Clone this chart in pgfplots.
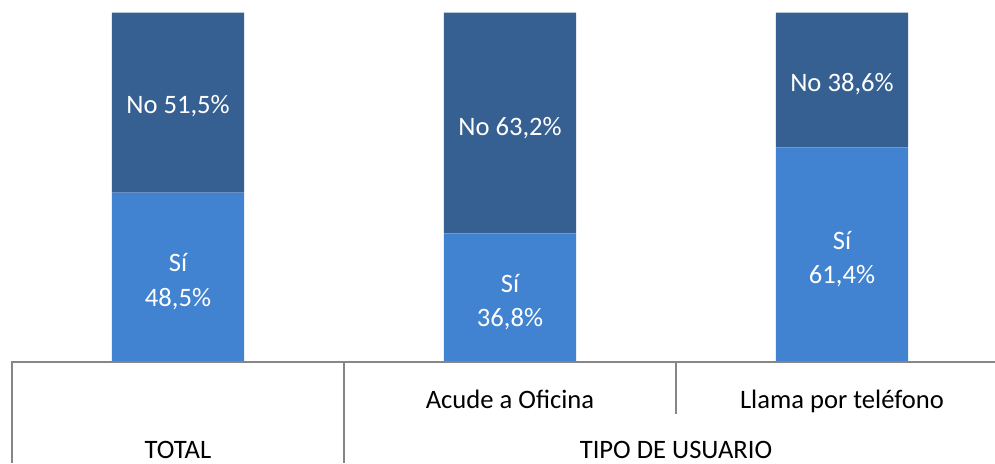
\documentclass[border=0pt]{standalone}
\usepackage{pgfplots}
\pgfplotsset{compat=1.18}
\usepackage{fontspec}
\setmainfont{Carlito}
\definecolor{noc}{RGB}{54,96,145}
\definecolor{sic}{RGB}{65,131,208}
\definecolor{linec}{RGB}{134,134,134}
\newcommand\lbl{\fontsize{13.3}{17.2}\selectfont}
\begin{document}
\begin{tikzpicture}
\useasboundingbox (0,0) rectangle (497.5pt,231.5pt);
\begin{axis}[
  at={(6pt,0pt)}, anchor=south west,
  width=491.5pt, height=231.5pt, scale only axis,
  xmin=-0.5, xmax=2.461, ymin=-28.9, ymax=103.6,
  hide axis, clip=false,
  ybar stacked, bar width=0.398,
]
\addplot[fill=sic, draw=none] coordinates {(0,48.5) (1,36.8) (2,61.4)};
\addplot[fill=noc, draw=none] coordinates {(0,51.5) (1,63.2) (2,38.6)};
\coordinate (p1) at (axis cs:-0.5,-28.9);
\coordinate (p2) at (axis cs:-0.5,0);
\coordinate (p3) at (axis cs:2.461,0);
\coordinate (p4) at (axis cs:0.5,0);
\coordinate (p5) at (axis cs:0.5,-28.9);
\coordinate (p6) at (axis cs:1.5,0);
\coordinate (p7) at (axis cs:1.5,-14.9);
\coordinate (s0) at (axis cs:0,24.25);
\coordinate (n0) at (axis cs:0,74.0);
\coordinate (s1) at (axis cs:1,18.4);
\coordinate (n1) at (axis cs:1,67.8);
\coordinate (s2) at (axis cs:2,30.7);
\coordinate (n2) at (axis cs:2,80.4);
\coordinate (c1) at (axis cs:1,-13.3);
\coordinate (c2) at (axis cs:2,-13.3);
\coordinate (g0) at (axis cs:0,-27.6);
\coordinate (g1) at (axis cs:1.5,-27.6);
\end{axis}
% category table lines
\draw[linec, line width=0.6pt] (p1) -- (p2) -- (p3);
\draw[linec, line width=0.6pt] (p4) -- (p5);
\draw[linec, line width=0.6pt] (p6) -- (p7);
% in-bar labels
\node[white, align=center, font=\lbl, yshift=-2.2pt] at (s0) {Sí\\48,5\%};
\node[white, align=center, font=\lbl, yshift=-1.3pt] at (n0) {No 51,5\%};
\node[white, align=center, font=\lbl, yshift=-2.2pt] at (s1) {Sí\\36,8\%};
\node[white, align=center, font=\lbl, yshift=-1.3pt] at (n1) {No 63,2\%};
\node[white, align=center, font=\lbl, yshift=-2.2pt] at (s2) {Sí\\61,4\%};
\node[white, align=center, font=\lbl, yshift=-1.3pt] at (n2) {No 38,6\%};
% category labels
\node[black, anchor=base, font=\lbl] at (c1) {Acude a Oficina};
\node[black, anchor=base, font=\lbl] at (c2) {Llama por teléfono};
\node[black, anchor=base, font=\lbl] at (g0) {TOTAL};
\node[black, anchor=base, font=\lbl] at (g1) {TIPO DE USUARIO};
\end{tikzpicture}
\end{document}
